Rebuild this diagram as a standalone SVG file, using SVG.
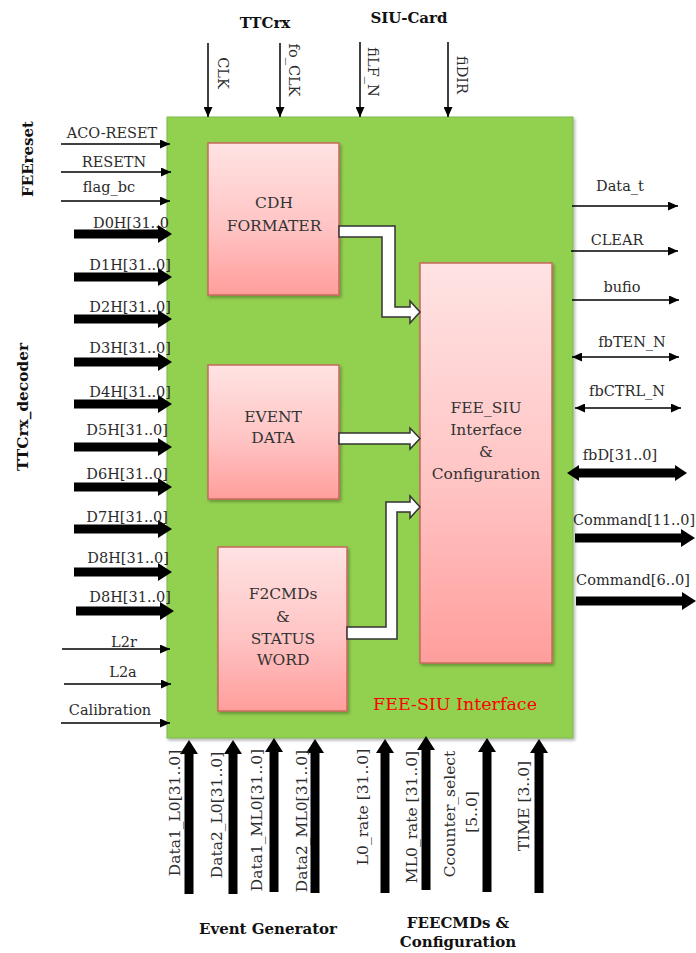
<svg xmlns="http://www.w3.org/2000/svg" xmlns:xlink="http://www.w3.org/1999/xlink" width="696" height="953" viewBox="0 0 696 953">
<style>
.sig{font-family:"DejaVu Serif","Liberation Serif",serif;font-size:14.5px;fill:#2b2b2b}
.sigb{font-family:"DejaVu Serif","Liberation Serif",serif;font-size:15.5px;fill:#2b2b2b}
.blk{font-family:"DejaVu Serif","Liberation Serif",serif;font-size:15.5px;fill:#333;text-anchor:middle}
.ttl{font-family:"DejaVu Serif","Liberation Serif",serif;font-size:15px;font-weight:bold;fill:#111;text-anchor:middle}
.thin{stroke:#000;stroke-width:1.5;fill:none;marker-end:url(#ah)}
.bi{stroke:#000;stroke-width:1.5;fill:none;marker-end:url(#ah);marker-start:url(#ah)}
.thick{fill:#000}
.hollow{fill:#fff;stroke:#333;stroke-width:1.5;stroke-linejoin:miter}
.box{fill:url(#pink);stroke:#c8695e;stroke-width:1.5;filter:url(#sh)}
</style>
<defs>
<linearGradient id="pink" x1="0" y1="0" x2="0" y2="1">
<stop offset="0" stop-color="#ffe3e3"/>
<stop offset="0.55" stop-color="#ffc4c4"/>
<stop offset="1" stop-color="#ff9e9c"/>
</linearGradient>
<filter id="sh" x="-10%" y="-10%" width="130%" height="130%">
<feDropShadow dx="1.5" dy="2" stdDeviation="1.5" flood-color="#000" flood-opacity="0.3"/>
</filter>
<marker id="ah" markerUnits="userSpaceOnUse" markerWidth="11" markerHeight="9" refX="10" refY="4.5" orient="auto-start-reverse">
<path d="M0,0 L10,4.5 L0,9 Z" fill="#000"/>
</marker>
<path id="thickR" d="M0,-4.5 H84 V-9 L98,0 L84,9 V4.5 H0 Z"/>
<path id="cmdR" d="M0,-4.5 H106 V-9 L120,0 L106,9 V4.5 H0 Z"/>
<path id="thickU" d="M-4.5,0 V-140 H-9 L0,-154 L9,-140 H4.5 V0 Z"/>
</defs>
<rect width="696" height="953" fill="#fff"/>

<g id="fee-siu-interface">
<rect x="167" y="117" width="406" height="621" fill="#92d050" stroke="#7cb84a" stroke-width="1" filter="url(#sh)"/>
<text x="455" y="710" font-family="DejaVu Serif, Liberation Serif, serif" font-size="16.5px" fill="#ff0000" text-anchor="middle" textLength="164" lengthAdjust="spacingAndGlyphs">FEE-SIU Interface</text>
</g>

<g id="cdh-formater">
<rect class="box" x="208" y="143" width="131" height="152"/>
<text class="blk" x="274" y="208">CDH</text>
<text class="blk" x="274" y="231">FORMATER</text>
</g>

<g id="event-data">
<rect class="box" x="208" y="365" width="131" height="134"/>
<text class="blk" x="273" y="422">EVENT</text>
<text class="blk" x="273" y="443">DATA</text>
</g>

<g id="f2cmds">
<rect class="box" x="218" y="547" width="129" height="164"/>
<text class="blk" x="283" y="599">F2CMDs</text>
<text class="blk" x="283" y="622">&amp;</text>
<text class="blk" x="283" y="644">STATUS</text>
<text class="blk" x="283" y="665">WORD</text>
</g>

<g id="fee-siu-config">
<rect class="box" x="420" y="263" width="132" height="400"/>
<text class="blk" x="486" y="413">FEE_SIU</text>
<text class="blk" x="486" y="435">Interface</text>
<text class="blk" x="486" y="457">&amp;</text>
<text class="blk" x="486" y="479">Configuration</text>
</g>

<g id="connectors">
<!-- internal hollow arrows -->
<path class="hollow" d="M339,226 H395 V307 H410 V301 L420,312 L410,323 V317 H382 V237 H339 Z"/>
<path class="hollow" d="M339,433 H410 V428 L420,438.5 L410,449 V444 H339 Z"/>
<path class="hollow" d="M347,627 H386 V502 H410 V496 L420,507 L410,518 V512 H397 V639 H347 Z"/>

<!-- top inputs -->
<line class="thin" x1="208" y1="43" x2="208" y2="117"/>
<line class="thin" x1="280" y1="43" x2="280" y2="117"/>
<line class="thin" x1="360" y1="42" x2="360" y2="117"/>
<line class="thin" x1="448" y1="42" x2="448" y2="117"/>

<!-- left thin inputs -->
<line class="thin" x1="61" y1="144" x2="170" y2="144"/>
<line class="thin" x1="61" y1="172" x2="171" y2="172"/>
<line class="thin" x1="61" y1="201" x2="170" y2="201"/>
<line class="thin" x1="62" y1="649" x2="170" y2="649"/>
<line class="thin" x1="64" y1="684" x2="171" y2="684"/>
<line class="thin" x1="61" y1="723" x2="170" y2="723"/>

<!-- left thick inputs -->
<use href="#thickR" class="thick" x="74" y="234"/>
<use href="#thickR" class="thick" x="74" y="277"/>
<use href="#thickR" class="thick" x="74" y="319"/>
<use href="#thickR" class="thick" x="74" y="362"/>
<use href="#thickR" class="thick" x="74" y="404"/>
<use href="#thickR" class="thick" x="74" y="447"/>
<use href="#thickR" class="thick" x="74" y="487"/>
<use href="#thickR" class="thick" x="74" y="529"/>
<use href="#thickR" class="thick" x="74" y="572"/>
<use href="#thickR" class="thick" x="76" y="611"/>

<!-- right outputs -->
<line class="thin" x1="572" y1="206" x2="678" y2="206"/>
<line class="thin" x1="571" y1="251" x2="678" y2="251"/>
<line class="thin" x1="572" y1="300" x2="679" y2="300"/>
<line class="bi" x1="572" y1="357" x2="679" y2="357"/>
<line class="bi" x1="575" y1="408" x2="681" y2="408"/>
<path class="thick" d="M567,473 L579,465 V468.5 H675 V465 L687,473 L675,481 V477.5 H579 V481 Z"/>
<use href="#cmdR" class="thick" x="575" y="538"/>
<use href="#cmdR" class="thick" x="576" y="601"/>

<!-- bottom inputs -->
<use href="#thickU" class="thick" x="189" y="894"/>
<use href="#thickU" class="thick" x="233" y="894"/>
<use href="#thickU" class="thick" x="274" y="892"/>
<use href="#thickU" class="thick" x="315" y="893"/>
<use href="#thickU" class="thick" x="385" y="893"/>
<use href="#thickU" class="thick" x="426" y="890"/>
<use href="#thickU" class="thick" x="487" y="892"/>
<use href="#thickU" class="thick" x="539" y="893"/>
</g>

<g id="labels">
<!-- group titles -->
<text class="ttl" x="265" y="28">TTCrx</text>
<text class="ttl" x="409" y="23">SIU-Card</text>
<text class="ttl" transform="translate(33,159) rotate(-90)">FEEreset</text>
<text class="ttl" transform="translate(28,407) rotate(-90)" textLength="128" lengthAdjust="spacingAndGlyphs">TTCrx_decoder</text>
<text class="ttl" x="268" y="934">Event Generator</text>
<text class="ttl" x="458" y="928">FEECMDs &amp;</text>
<text class="ttl" x="458" y="947">Configuration</text>

<!-- top signal labels -->
<text class="sig" text-anchor="middle" transform="translate(218,73) rotate(90)">CLK</text>
<text class="sig" text-anchor="middle" transform="translate(289,70) rotate(90)">fo_CLK</text>
<text class="sig" text-anchor="middle" transform="translate(368,72) rotate(90)">fiLF_N</text>
<text class="sig" text-anchor="middle" transform="translate(457,75) rotate(90)">fiDIR</text>

<!-- left labels -->
<text class="sig" x="112" y="138" text-anchor="middle">ACO-RESET</text>
<text class="sig" x="114" y="167" text-anchor="middle">RESETN</text>
<text class="sig" x="109" y="192" text-anchor="middle">flag_bc</text>
<text class="sig" x="93" y="228">D0H[31..0</text>
<text class="sig" x="171" y="270" text-anchor="end">D1H[31..0]</text>
<text class="sig" x="171" y="312" text-anchor="end">D2H[31..0]</text>
<text class="sig" x="171" y="353" text-anchor="end">D3H[31..0]</text>
<text class="sig" x="171" y="397" text-anchor="end">D4H[31..0]</text>
<text class="sig" x="168" y="435" text-anchor="end">D5H[31..0]</text>
<text class="sig" x="168" y="479" text-anchor="end">D6H[31..0]</text>
<text class="sig" x="168" y="522" text-anchor="end">D7H[31..0]</text>
<text class="sig" x="169" y="563" text-anchor="end">D8H[31..0]</text>
<text class="sig" x="171" y="602" text-anchor="end">D8H[31..0]</text>
<text class="sig" x="124" y="647" text-anchor="middle">L2r</text>
<text class="sig" x="123" y="677" text-anchor="middle">L2a</text>
<text class="sig" x="110" y="715" text-anchor="middle">Calibration</text>

<!-- right labels -->
<text class="sig" x="620" y="191" text-anchor="middle">Data_t</text>
<text class="sig" x="617" y="245" text-anchor="middle">CLEAR</text>
<text class="sig" x="622" y="292" text-anchor="middle">bufio</text>
<text class="sig" x="632" y="347" text-anchor="middle">fbTEN_N</text>
<text class="sig" x="627" y="396" text-anchor="middle">fbCTRL_N</text>
<text class="sig" x="620" y="460" text-anchor="middle">fbD[31..0]</text>
<text class="sig" x="573" y="525" textLength="122" lengthAdjust="spacingAndGlyphs">Command[11..0]</text>
<text class="sig" x="576" y="585" textLength="114" lengthAdjust="spacingAndGlyphs">Command[6..0]</text>

<!-- bottom labels -->
<text class="sigb" text-anchor="middle" transform="translate(180,813) rotate(-90)">Data1_L0[31..0]</text>
<text class="sigb" text-anchor="middle" transform="translate(222,815) rotate(-90)">Data2_L0[31..0]</text>
<text class="sigb" text-anchor="middle" transform="translate(262,820) rotate(-90)">Data1_ML0[31..0]</text>
<text class="sigb" text-anchor="middle" transform="translate(307,821) rotate(-90)">Data2_ML0[31..0]</text>
<text class="sigb" text-anchor="middle" transform="translate(368,807) rotate(-90)">L0_rate [31..0]</text>
<text class="sigb" text-anchor="middle" transform="translate(417,817) rotate(-90)">ML0_rate [31..0]</text>
<text class="sigb" text-anchor="middle" transform="translate(455,814) rotate(-90)">Ccounter_select</text>
<text class="sigb" text-anchor="middle" transform="translate(477,812) rotate(-90)">[5..0]</text>
<text class="sigb" text-anchor="middle" transform="translate(529,806) rotate(-90)">TIME [3..0]</text>
</g>
</svg>
